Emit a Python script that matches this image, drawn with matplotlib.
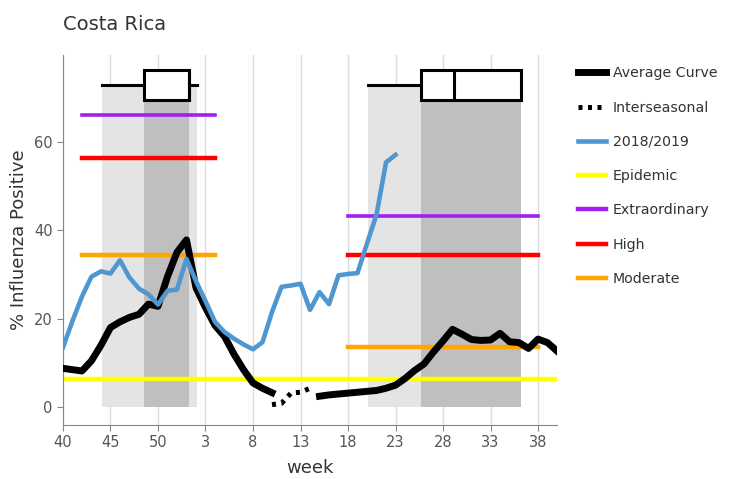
import numpy as np
import matplotlib
matplotlib.use("Agg")
import matplotlib.pyplot as plt
from matplotlib.lines import Line2D

# semanas: índice 0 = semana 40
tick_pos = [0, 5, 10, 15, 20, 25, 30, 35, 40, 45, 50]
tick_labels = ["40", "45", "50", "3", "8", "13", "18", "23", "28", "33", "38"]

# curva promedio (dos tramos, el hueco es el periodo interestacional)
avg_x1 = list(range(0, 23))
avg_y1 = [8.8, 8.5, 8.2, 10.5, 14.0, 18.0, 19.3, 20.3, 21.0, 23.3, 22.8, 29.5,
          35.0, 37.8, 27.0, 22.5, 18.5, 16.0, 12.0, 8.5, 5.5, 4.3, 3.3]
avg_x2 = list(range(27, 53))
avg_y2 = [2.5, 2.8, 3.0, 3.2, 3.4, 3.6, 3.8, 4.3, 5.0, 6.5, 8.3, 9.8, 12.5,
          15.0, 17.6, 16.5, 15.3, 15.1, 15.2, 16.7, 14.8, 14.6, 13.3, 15.4, 14.6, 12.7]

inter_x = [22, 23, 24, 25, 26]
inter_y = [0.6, 0.9, 3.2, 3.4, 4.3]

# temporada 2018/2019
temp_x = list(range(0, 36))
temp_y = [13.5, 19.5, 25.0, 29.5, 30.7, 30.2, 33.2, 29.3, 26.8, 25.5, 23.2, 26.3,
          26.6, 33.5, 28.5, 24.0, 19.3, 17.0, 15.5, 14.2, 13.1, 14.7, 21.5, 27.2,
          27.5, 27.9, 22.0, 26.0, 23.3, 29.8, 30.1, 30.3, 37.0, 43.5, 55.3, 57.0]

# umbrales
epidemico = 6.5
umbral_x = [(2, 16), (30, 50)]
extraordinario = [66.1, 43.3]
alto = [56.4, 34.3]
moderado = [34.3, 13.6]

# cajas de inicio/fin de temporada
caja_whislo = [4.07, 32.1]
caja_q1 = [8.56, 37.7]
caja_med = [13.26, 41.2]
caja_q3 = [13.26, 48.2]
caja_whishi = [14.07, 48.2]
caja_y = 72.7

fig = plt.figure(figsize=(7.32, 4.79), dpi=100)
ax = fig.add_axes([0.086, 0.1127, 0.675, 0.772])

# sombreado
for i in range(2):
    ax.fill_between([caja_whislo[i], caja_whishi[i]], 0, caja_y, color="#e4e4e4", lw=0, zorder=0)
    ax.fill_between([caja_q1[i], caja_q3[i]], 0, caja_y - 3.4, color="#bfbfbf", lw=0, zorder=0.5)

stats = []
for i in range(2):
    stats.append(dict(whislo=caja_whislo[i], q1=caja_q1[i], med=caja_med[i],
                      q3=caja_q3[i], whishi=caja_whishi[i], fliers=[]))
ax.bxp(stats, positions=[caja_y, caja_y], widths=6.8, vert=False, showcaps=False,
       manage_ticks=False, patch_artist=True,
       boxprops=dict(facecolor="white", edgecolor="black", lw=2.2),
       whiskerprops=dict(color="black", lw=2.2),
       medianprops=dict(color="black", lw=2.2))

ax.axhline(epidemico, color="#ffff00", lw=3.2, zorder=2)
for i, (x0, x1) in enumerate(umbral_x):
    ax.plot([x0, x1], [extraordinario[i]] * 2, color="#a020f0", lw=2.6, zorder=2)
    ax.plot([x0, x1], [alto[i]] * 2, color="#ff0000", lw=3.2, zorder=2)
    ax.plot([x0, x1], [moderado[i]] * 2, color="#ffa500", lw=3.2, zorder=2)

ax.plot(avg_x1, avg_y1, color="black", lw=5, solid_joinstyle="round", zorder=3)
ax.plot(avg_x2, avg_y2, color="black", lw=5, solid_joinstyle="round", zorder=3)
ax.plot(inter_x, inter_y, color="black", lw=3.6, linestyle=(0, (0.8, 1.1)),
        dash_capstyle="butt", zorder=3)
ax.plot(temp_x, temp_y, color="#4f97d1", lw=3.3, zorder=3)

ax.set_xlim(0, 52)
ax.set_ylim(-4, 79.5)
ax.set_xticks(tick_pos)
ax.set_xticklabels(tick_labels)
ax.set_yticks([0, 20, 40, 60])
for x in tick_pos:
    ax.axvline(x, color="#dcdcdc", lw=1, zorder=-1)
for s in ["top", "right"]:
    ax.spines[s].set_visible(False)
for s in ["left", "bottom"]:
    ax.spines[s].set_color("#888888")
ax.tick_params(colors="#888888", labelcolor="#555555", labelsize=10.5, length=4)
ax.set_xlabel("week", fontsize=13, color="#333333", labelpad=6)
ax.set_ylabel("% Influenza Positive", fontsize=13, color="#333333")
ax.set_title("Costa Rica", loc="left", fontsize=14, color="#333333", pad=18)

handles = [
    Line2D([], [], color="black", lw=5),
    Line2D([], [], color="black", lw=3.6, linestyle=(0, (0.8, 1.1)), dash_capstyle="butt"),
    Line2D([], [], color="#4f97d1", lw=3.3),
    Line2D([], [], color="#ffff00", lw=3.2),
    Line2D([], [], color="#a020f0", lw=3.2),
    Line2D([], [], color="#ff0000", lw=3.2),
    Line2D([], [], color="#ffa500", lw=3.2),
]
labels = ["Average Curve", "Interseasonal", "2018/2019", "Epidemic",
          "Extraordinary", "High", "Moderate"]
fig.legend(handles, labels, loc="upper left", bbox_to_anchor=(0.772, 0.888),
           frameon=False, fontsize=10.2, labelspacing=1.43, handlelength=2.0,
           handletextpad=0.45, labelcolor="#333333")

plt.savefig("out.png", dpi=100)
